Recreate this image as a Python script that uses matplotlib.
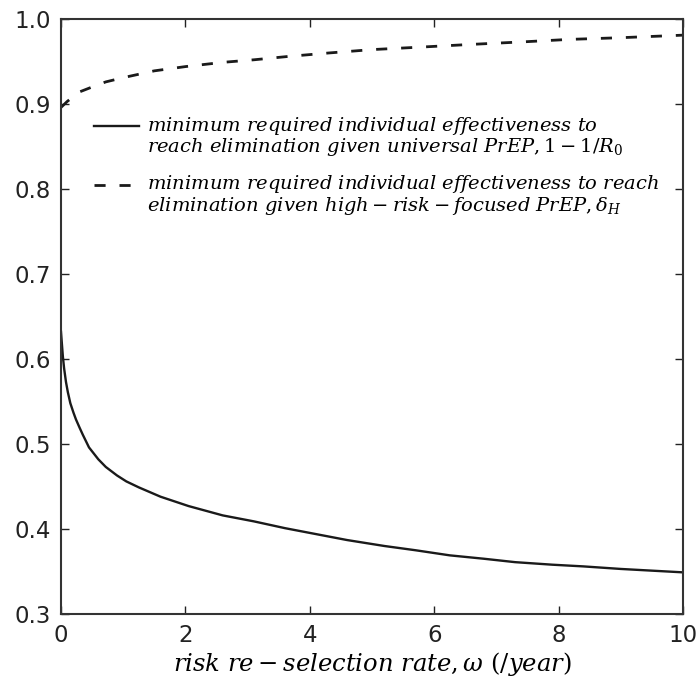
import matplotlib
matplotlib.use('Agg')
import matplotlib.pyplot as plt
import numpy as np

# risk re-selection rate (omega, per year)
omega_universal = [0.0, 0.01, 0.03, 0.05, 0.08, 0.11, 0.15, 0.2, 0.24, 0.3, 0.35, 0.45,
                   0.6, 0.72, 0.9, 1.05, 1.25, 1.6, 2.05, 2.6, 3.1, 3.6, 4.1, 4.6, 5.2,
                   5.7, 6.25, 6.8, 7.3, 7.9, 8.4, 9.0, 9.5, 10.0]
# minimum required effectiveness, universal PrEP (1 - 1/R0)
eff_universal = [0.632, 0.622, 0.603, 0.589, 0.573, 0.561, 0.548, 0.537, 0.529, 0.519,
                 0.511, 0.496, 0.482, 0.473, 0.463, 0.456, 0.449, 0.438, 0.427, 0.416,
                 0.409, 0.401, 0.394, 0.387, 0.380, 0.375, 0.369, 0.365, 0.361, 0.358,
                 0.356, 0.353, 0.351, 0.349]

omega_focused = [0.0, 0.1, 0.29, 0.5, 0.72, 1.0, 1.5, 2.0, 2.6, 3.1, 3.66, 4.3, 5.0,
                 5.8, 6.56, 7.4, 8.17, 9.0, 10.0]
# minimum required effectiveness, high-risk-focused PrEP (delta_H)
eff_focused = [0.896, 0.903, 0.914, 0.920, 0.926, 0.931, 0.939, 0.944, 0.949, 0.952,
               0.956, 0.960, 0.964, 0.967, 0.970, 0.973, 0.976, 0.978, 0.981]

plt.rcParams['mathtext.fontset'] = 'dejavuserif'

fig = plt.figure(figsize=(6.99, 6.90), dpi=100)
ax = fig.add_axes([61/699, 1 - 614/690, 622/699, 595/690])

ax.plot(omega_universal, eff_universal, color='#1a1a1a', lw=1.7,
        label='$minimum\\ required\\ individual\\ effectiveness\\ to$\n'
              '$reach\\ elimination\\ given\\ universal\\ PrEP, 1-1/R_0$')
ax.plot(omega_focused, eff_focused, color='#1a1a1a', lw=2.0, linestyle=(0, (4, 5)),
        label='$minimum\\ required\\ individual\\ effectiveness\\ to\\ reach$\n'
              '$elimination\\ given\\ high-risk-focused\\ PrEP, \\delta_H$')

ax.set_xlim(0, 10)
ax.set_ylim(0.3, 1.0)
ax.set_xticks([0, 2, 4, 6, 8, 10])
ax.set_yticks([0.3, 0.4, 0.5, 0.6, 0.7, 0.8, 0.9, 1.0])
ax.tick_params(direction='in', top=True, right=True, length=6, width=1,
               labelsize=16.5, colors='#222222', pad=7)
for s in ax.spines.values():
    s.set_linewidth(1.5)
    s.set_color('#333333')

ax.set_xlabel('$risk\\ re-selection\\ rate, \\omega\\ (/year)$', fontsize=17.5, labelpad=2)

leg = ax.legend(loc='upper left', bbox_to_anchor=(0.025, 0.868), frameon=False, fontsize=14,
                handlelength=2.3, handletextpad=0.4, labelspacing=0.78)
for t in leg.get_texts():
    t.set_linespacing(0.95)
# the handles sit level with the first text line, not the middle
for h in leg.legend_handles:
    h.set_ydata(np.asarray(h.get_ydata()) + 8)

fig.savefig('out.png', dpi=100)
